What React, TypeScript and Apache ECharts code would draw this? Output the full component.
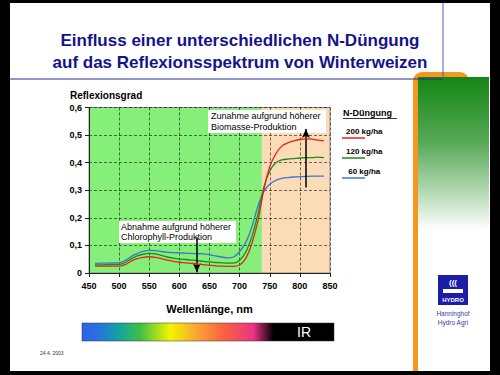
import React, { useEffect, useRef } from "react";
import * as echarts from "echarts";

// Wavelengths (nm)
const wavelengths = [460, 480, 500, 510, 520, 530, 540, 550, 560, 570, 580, 590, 600, 610, 620, 630, 640, 650, 660, 670, 680, 690, 700, 710, 720, 730, 740, 750, 760, 770, 780, 790, 800, 810, 820, 830, 840];
// Reflexionsgrad by N-Düngung
const n200 = [0.025, 0.025, 0.025, 0.030, 0.043, 0.052, 0.057, 0.059, 0.057, 0.052, 0.047, 0.042, 0.039, 0.037, 0.035, 0.033, 0.030, 0.028, 0.026, 0.025, 0.024, 0.024, 0.029, 0.052, 0.105, 0.185, 0.300, 0.385, 0.432, 0.460, 0.472, 0.479, 0.484, 0.486, 0.485, 0.482, 0.479];
const n120 = [0.029, 0.030, 0.031, 0.038, 0.052, 0.062, 0.068, 0.071, 0.069, 0.064, 0.058, 0.054, 0.051, 0.049, 0.047, 0.045, 0.042, 0.040, 0.038, 0.037, 0.036, 0.036, 0.046, 0.075, 0.130, 0.210, 0.310, 0.370, 0.400, 0.410, 0.413, 0.415, 0.417, 0.418, 0.418, 0.420, 0.418];
const n60 = [0.035, 0.036, 0.037, 0.045, 0.060, 0.070, 0.078, 0.082, 0.081, 0.078, 0.075, 0.074, 0.073, 0.072, 0.071, 0.070, 0.069, 0.066, 0.062, 0.058, 0.055, 0.058, 0.078, 0.110, 0.165, 0.240, 0.295, 0.322, 0.336, 0.343, 0.346, 0.348, 0.349, 0.350, 0.351, 0.351, 0.351];

const seriesNames = ["200 kg/ha", "120 kg/ha", " 60 kg/ha"];
const seriesColors = ["#e3241b", "#1f8a1f", "#3a78d6"];
const xRange = [450, 850];
const xStep = 50;
const yRange = [0, 0.6];
const yStep = 0.1;
const visibleEnd = 737; // boundary between visible (green) and IR (peach)
const upArrow = [810, 0.31, 0.522];
const downArrow = [629, 0.13, 0.003];

const FONT = '"Liberation Sans", Arial, Helvetica, sans-serif';

export default function App() {
  const ref = useRef<HTMLDivElement>(null);
  useEffect(() => {
    if (!ref.current) return;
    const chart = echarts.init(ref.current, undefined, { renderer: "svg" });
    const allData = [n200, n120, n60];

    const txt = (text: string, x: number, y: number, font: string, fill: string, align = "left", z = 10) => ({
      type: "text",
      z,
      style: { text, x, y, font, fill, textAlign: align, align, textVerticalAlign: "middle", verticalAlign: "middle" },
    });

    const legendY = [131, 151, 171];
    const legendG: any[] = [];
    seriesNames.forEach((nm, i) => {
      legendG.push(txt(nm, 346, legendY[i], `bold 8px ${FONT}`, "#000"));
      legendG.push({ type: "line", z: 10, shape: { x1: 342, y1: legendY[i] + 7, x2: 365, y2: legendY[i] + 7 }, style: { stroke: seriesColors[i], lineWidth: 1.5 } });
    });

    chart.setOption({
      animation: false,
      backgroundColor: "#000",
      grid: { left: 89, top: 107.5, width: 241, height: 165.5, show: true, backgroundColor: "transparent", borderColor: "#8a8a8a", borderWidth: 1 },
      xAxis: {
        type: "value",
        min: xRange[0],
        max: xRange[1],
        interval: xStep,
        name: "Wellenlänge, nm",
        nameLocation: "middle",
        nameGap: 30,
        nameTextStyle: { fontFamily: FONT, fontWeight: "bold", fontSize: 11, color: "#000" },
        axisLine: { show: true, lineStyle: { color: "#222", width: 1 } },
        axisTick: { show: true, length: 4, lineStyle: { color: "#222" } },
        axisLabel: { fontFamily: FONT, fontWeight: "bold", fontSize: 9, color: "#000", margin: 8 },
        splitLine: { show: true, lineStyle: { color: "rgba(0,0,0,0.55)", type: [3, 2], width: 1 } },
      },
      yAxis: {
        type: "value",
        min: yRange[0],
        max: yRange[1],
        interval: yStep,
        axisLine: { show: true, lineStyle: { color: "#222", width: 1 } },
        axisTick: { show: true, length: 4, lineStyle: { color: "#222" } },
        axisLabel: {
          fontFamily: FONT, fontWeight: "bold", fontSize: 9, color: "#000", margin: 7,
          formatter: (v: number) => (v === 0 ? "0" : v.toFixed(1).replace(".", ",")),
        },
        splitLine: { show: true, lineStyle: { color: "rgba(0,0,0,0.55)", type: [3, 2], width: 1 } },
      },
      series: [
        {
          type: "line",
          name: "bg",
          data: [[xRange[0], 0]],
          showSymbol: false,
          symbol: "none",
          lineStyle: { opacity: 0 },
          silent: true,
          markArea: {
            z: -1,
            silent: true,
            data: [
              [{ xAxis: xRange[0], itemStyle: { color: "#86ef79" } }, { xAxis: visibleEnd }],
              [{ xAxis: visibleEnd, itemStyle: { color: "#fcdcb6" } }, { xAxis: xRange[1] }],
            ],
          },
          markLine: {
            silent: true,
            symbol: ["none", "arrow"],
            symbolSize: [6, 9],
            label: { show: false },
            lineStyle: { color: "#000", width: 1.5, type: "solid" },
            data: [
              [{ coord: [upArrow[0], upArrow[1]] }, { coord: [upArrow[0], upArrow[2]] }],
              [{ coord: [downArrow[0], downArrow[1]] }, { coord: [downArrow[0], downArrow[2]] }],
            ],
          },
        },
        ...seriesNames.map((nm, i) => ({
          type: "line",
          name: nm,
          data: wavelengths.map((w, j) => [w, allData[i][j]]),
          smooth: 0.3,
          symbol: "none",
          lineStyle: { color: seriesColors[i], width: 1.3 },
          z: 3 + (2 - i),
        })),
      ],
      graphic: [
        // white page
        { type: "rect", z: -100, shape: { x: 10, y: 3, width: 480, height: 368 }, style: { fill: "#fff" } },
        // orange frame
        { type: "rect", z: -90, shape: { x: 413, y: 72, width: 56, height: 299, r: [9, 9, 0, 0] }, style: { fill: "#f7961e" } },
        // green gradient panel
        {
          type: "rect", z: -80, shape: { x: 418, y: 77, width: 71, height: 294 },
          style: {
            fill: new echarts.graphic.LinearGradient(0, 0, 0, 1, [
              { offset: 0, color: "#138613" },
              { offset: 0.22, color: "#56a956" },
              { offset: 0.4, color: "#b8dcb8" },
              { offset: 0.52, color: "#ffffff" },
              { offset: 1, color: "#ffffff" },
            ]),
          },
        },
        // blue frame lines
        { type: "line", z: 20, shape: { x1: 10, y1: 79, x2: 443, y2: 79 }, style: { stroke: "#2a2a9a", lineWidth: 1 } },
        { type: "line", z: 20, shape: { x1: 443, y1: 3, x2: 443, y2: 79 }, style: { stroke: "#5a5ab8", lineWidth: 1 } },
        // title
        txt("Einfluss einer unterschiedlichen N-Düngung", 240, 40, `bold 17px ${FONT}`, "#14148a", "center"),
        txt("auf das Reflexionsspektrum von Winterweizen", 240, 62, `bold 17px ${FONT}`, "#14148a", "center"),
        // y axis title
        txt("Reflexionsgrad", 70, 95, `bold 10px ${FONT}`, "#000"),
        // annotation boxes
        { type: "rect", z: 1, shape: { x: 208, y: 110, width: 118, height: 23 }, style: { fill: "#fff" } },
        txt("Zunahme aufgrund höherer", 211, 116, `9px ${FONT}`, "#000", "left", 2),
        txt("Biomasse-Produktion", 211, 127, `9px ${FONT}`, "#000", "left", 2),
        { type: "rect", z: 1, shape: { x: 119, y: 221, width: 117, height: 22 }, style: { fill: "#fff" } },
        txt("Abnahme aufgrund höherer", 121, 226.5, `9px ${FONT}`, "#000", "left", 2),
        txt("Chlorophyll-Produktion", 121, 237, `9px ${FONT}`, "#000", "left", 2),
        // legend
        txt("N-Düngung", 343, 113, `bold 9px ${FONT}`, "#000"),
        { type: "line", z: 10, shape: { x1: 343, y1: 118.5, x2: 397, y2: 118.5 }, style: { stroke: "#000", lineWidth: 0.8 } },
        ...legendG,
        // spectrum bar
        {
          type: "rect", z: 5, shape: { x: 82, y: 323, width: 252, height: 18 },
          style: {
            fill: new echarts.graphic.LinearGradient(0, 0, 1, 0, [
              { offset: 0, color: "#2f62ee" },
              { offset: 0.06, color: "#2a70e0" },
              { offset: 0.14, color: "#12a0a8" },
              { offset: 0.23, color: "#3cc048" },
              { offset: 0.35, color: "#f4f400" },
              { offset: 0.45, color: "#f9a832" },
              { offset: 0.56, color: "#f8643e" },
              { offset: 0.68, color: "#ea3486" },
              { offset: 0.76, color: "#000000" },
              { offset: 1, color: "#000000" },
            ]),
            stroke: "#333", lineWidth: 0.5,
          },
        },
        txt("IR", 304, 332, `14px ${FONT}`, "#fff", "center", 6),
        // date
        txt("24.4. 2003", 40, 353, `5px ${FONT}`, "#333"),
        // Hydro logo
        { type: "rect", z: 10, shape: { x: 438, y: 275, width: 30, height: 30 }, style: { fill: "#1c1ca6" } },
        txt("(((", 453, 282, `bold 8px ${FONT}`, "#fff", "center", 11),
        { type: "rect", z: 11, shape: { x: 443, y: 289, width: 20, height: 4 }, style: { fill: "#fff" } },
        txt("HYDRO", 453, 299.5, `bold 6px ${FONT}`, "#fff", "center", 11),
        txt("Hanninghof", 453, 313, `6.5px ${FONT}`, "#3a3aa8", "center"),
        txt("Hydro Agri", 453, 322, `6.5px ${FONT}`, "#3a3aa8", "center"),
      ],
    });
    return () => chart.dispose();
  }, []);
  return <div ref={ref} style={{ position: "fixed", left: 0, top: 0, width: 500, height: 375 }} />;
}
